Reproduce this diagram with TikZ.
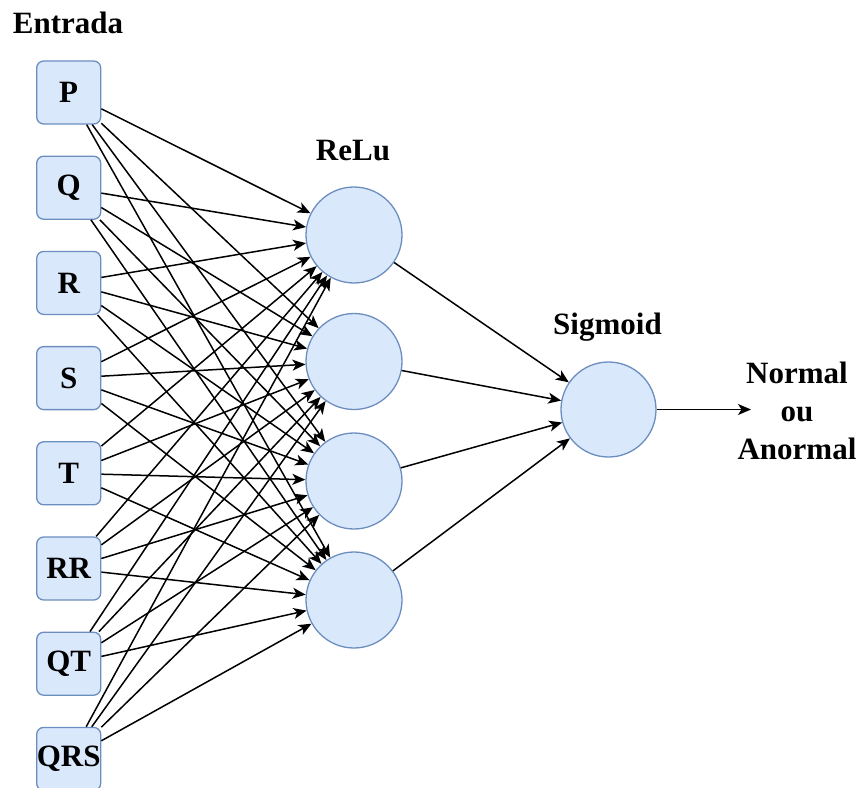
\documentclass[tikz,border=0pt]{standalone}
\usepackage{fontspec}
\setmainfont{Liberation Serif}
\usetikzlibrary{arrows.meta}
\definecolor{bfill}{HTML}{DAE8FC}
\definecolor{bdraw}{HTML}{6C8EBF}
\begin{document}
\begin{tikzpicture}[x=1pt,y=-1pt,
 inbox/.style={draw=bdraw,fill=bfill,rounded corners=7pt,minimum width=64pt,minimum height=63pt,inner sep=0pt,line width=1.3pt,font=\fontsize{31}{36}\selectfont\bfseries},
 neuron/.style={circle,draw=bdraw,fill=bfill,minimum size=96pt,inner sep=0pt,line width=1.3pt},
 conn/.style={line width=1.5pt,-{Stealth[length=13pt,width=11pt,inset=3.5pt]}},
 lbl/.style={font=\fontsize{31}{38}\selectfont\bfseries,inner sep=0pt,anchor=base}]
\useasboundingbox (0,0) rectangle (861,787);
% input nodes
\foreach \n/\t [count=\i from 0] in {p/P,q/Q,r/R,s/S,t/T,rr/RR,qt/QT,qrs/QRS}{
  \node[inbox] (\n) at (68.7,{92.5+95.2*\i}) {\t};
}
% hidden nodes
\node[neuron] (h1) at (354,235) {};
\node[neuron] (h2) at (354,361.5) {};
\node[neuron] (h3) at (354,481) {};
\node[neuron] (h4) at (354,600) {};
% output node
\node[neuron,minimum size=95pt] (o) at (608.5,409.5) {};
\coordinate (out) at (751,409.5);
% labels
\node[lbl] (lin) at (68,33) {Entrada};
\node[lbl] (lrelu) at (353,160) {ReLu};
\node[lbl] (lsig) at (607.5,334) {Sigmoid};
\node[lbl] (l1) at (797,383) {Normal};
\node[lbl] (l2) at (797,421.5) {ou};
\node[lbl] (l3) at (797,459) {Anormal};
% connections
\foreach \n in {p,q,r,s,t,rr,qt,qrs}{
  \foreach \h in {h1,h2,h3,h4}{
    \draw[conn] (\n) -- (\h);
  }
}
\foreach \h in {h1,h2,h3,h4}{
  \draw[conn] (\h) -- (o);
}
\draw[conn] (o) -- (out);
\end{tikzpicture}
\end{document}
